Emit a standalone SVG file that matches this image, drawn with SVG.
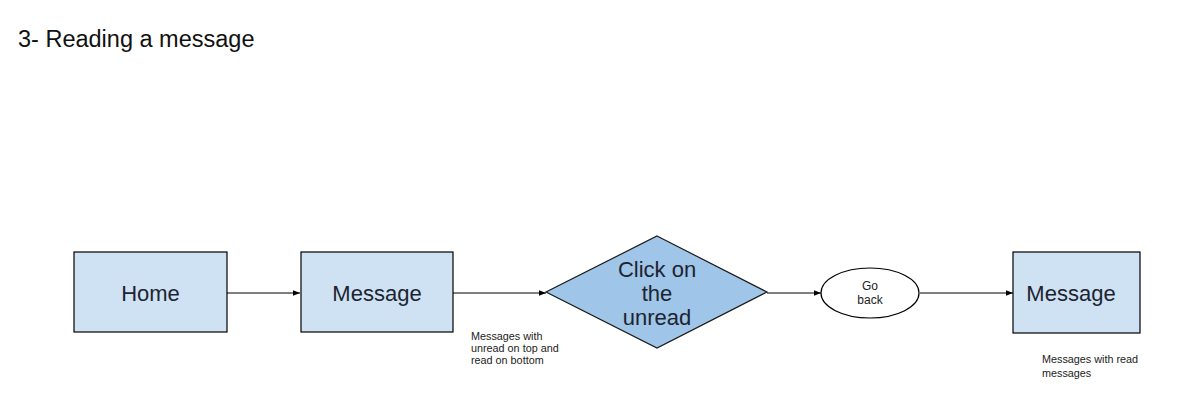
<svg xmlns="http://www.w3.org/2000/svg" width="1200" height="408" viewBox="0 0 1200 408">
<style>
.box{fill:#cfe2f3;stroke:#000;stroke-width:1.2}
.dia{fill:#9fc5e8;stroke:#1a1a1a;stroke-width:1.2}
.ell{fill:#fff;stroke:#000;stroke-width:1.2}
.lbl{font-family:"Liberation Sans",Arial,sans-serif;font-size:22px;fill:#1c2430;text-anchor:middle}
.sm{font-family:"Liberation Sans",Arial,sans-serif;font-size:12px;fill:#222;text-anchor:middle}
.note{font-family:"Liberation Sans",Arial,sans-serif;font-size:10.8px;fill:#222}
.title{font-family:"Liberation Sans",Arial,sans-serif;font-size:23.5px;fill:#111}
.edge{stroke:#000;stroke-width:1.2;fill:none;marker-end:url(#ah)}
</style>
<defs>
<marker id="ah" viewBox="0 0 10 10" refX="10" refY="5" markerWidth="7" markerHeight="7" markerUnits="userSpaceOnUse" orient="auto">
<path d="M0,1 L10,5 L0,9 Z" fill="#000"/>
</marker>
</defs>
<rect width="1200" height="408" fill="#fff"/>
<text class="title" x="18" y="47">3- Reading a message</text>
<g id="connectors">
<line class="edge" x1="227" y1="293" x2="300" y2="293"/>
<line class="edge" x1="453" y1="293" x2="546" y2="293"/>
<line class="edge" x1="767" y1="293" x2="821" y2="293"/>
<line class="edge" x1="920" y1="293" x2="1013" y2="293"/>
</g>
<g id="home">
<rect class="box" x="74" y="252" width="153" height="80"/>
<text class="lbl" x="150.5" y="301">Home</text>
</g>
<g id="message1">
<rect class="box" x="301" y="252" width="152" height="80"/>
<text class="lbl" x="377" y="301">Message</text>
</g>
<g id="click">
<polygon class="dia" points="657,236 767,292 657,348 546,292"/>
<text class="lbl" x="657" y="277">Click on</text>
<text class="lbl" x="657" y="301">the</text>
<text class="lbl" x="657" y="325">unread</text>
</g>
<g id="goback">
<ellipse class="ell" cx="870" cy="293" rx="49" ry="25"/>
<text class="sm" x="870" y="290">Go</text>
<text class="sm" x="870" y="304">back</text>
</g>
<g id="message2">
<rect class="box" x="1013" y="252" width="127" height="81"/>
<text class="lbl" x="1071" y="301">Message</text>
</g>
<g id="note1">
<text class="note" x="471" y="340">Messages with</text>
<text class="note" x="471" y="352">unread on top and</text>
<text class="note" x="471" y="364">read on bottom</text>
</g>
<g id="note2">
<text class="note" x="1042" y="363">Messages with read</text>
<text class="note" x="1042" y="377">messages</text>
</g>
</svg>
